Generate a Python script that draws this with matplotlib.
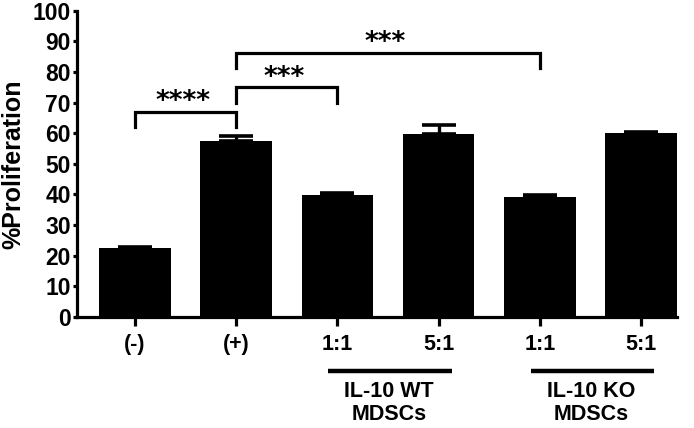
import matplotlib.pyplot as plt
import matplotlib.transforms as mtransforms

plt.rcParams['font.family'] = ['Liberation Sans', 'DejaVu Sans']
plt.rcParams['font.weight'] = 'bold'

# data
groups = ["(-)", "(+)", "1:1", "5:1", "1:1", "5:1"]
proliferation = [22.5, 57.5, 39.7, 59.8, 39.1, 60.1]
sem = [0.3, 1.6, 0.9, 3.0, 0.6, 0.3]

# significance brackets: (from bar, to bar, top, leg bottom, stars)
brackets = [(0, 1, 67.0, 62.0, "****"),
            (1, 2, 75.0, 70.0, "***"),
            (1, 4, 86.0, 81.3, "***")]
star_y = [70.3, 78.0, 89.5]

mdsc_labels = ["IL-10 WT\nMDSCs", "IL-10 KO\nMDSCs"]
mdsc_spans = [(1.91, 3.13), (3.91, 5.13)]

fig = plt.figure(figsize=(6.94, 4.28), dpi=100)
ax = fig.add_axes([0.111, 0.2593, 0.8645, 0.716])

x = list(range(len(groups)))
ax.bar(x, proliferation, width=0.707, color="black", zorder=2)
ax.errorbar(x, proliferation, yerr=[[0] * len(sem), sem], fmt="none",
            ecolor="black", elinewidth=2.4, capsize=11.9, capthick=2.6,
            zorder=3)

ax.set_xlim(-0.573, 5.356)
ax.set_ylim(0, 100)
ax.set_yticks(range(0, 101, 10))
ax.set_xticks(x)
ax.set_xticklabels(groups)

for s in ["top", "right"]:
    ax.spines[s].set_visible(False)
for s in ["left", "bottom"]:
    ax.spines[s].set_linewidth(2.3)
ax.tick_params(axis="y", length=3, width=2.3, labelsize=16.5, pad=1.5)
ax.tick_params(axis="x", length=6.5, width=2.3, labelsize=15.5, pad=6)

ax.set_ylabel("%Proliferation", fontsize=18, fontweight="bold")
ax.yaxis.set_label_coords(-0.086, 0.5)

for (a, b, top, low, stars), sy in zip(brackets, star_y):
    ax.plot([a, a, b, b], [low, top, top, low], color="black", lw=2.3,
            solid_joinstyle="miter", clip_on=False)
    ax.text((a + b) / 2 - 0.03, sy, stars, ha="center", va="center",
            fontsize=19, fontweight="bold", family="DejaVu Sans")

trans = mtransforms.blended_transform_factory(ax.transData, ax.transAxes)
for (a, b), lab in zip(mdsc_spans, mdsc_labels):
    ax.plot([a, b], [-0.176, -0.176], color="black", lw=3.2,
            transform=trans, clip_on=False, solid_capstyle="butt")
    ax.text((a + b) / 2 - 0.01, -0.21, lab, transform=trans, ha="center",
            va="top", fontsize=15.5, fontweight="bold", linespacing=1.1)

fig.savefig("out.png", dpi=100)
